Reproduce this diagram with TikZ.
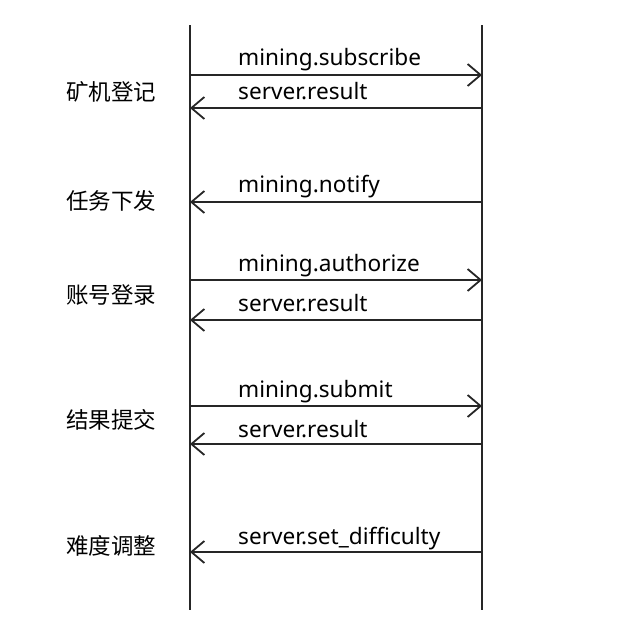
\documentclass[tikz,border=0pt]{standalone}
\usepackage{fontspec}
\setmainfont{Noto Sans}
\newfontfamily\cjk{Noto Sans CJK SC}
\usetikzlibrary{arrows.meta}
\begin{document}
\begin{tikzpicture}[x=1pt,y=-1pt,
  life/.style={line width=1.6pt,black!85},
  msg/.style={line width=1.8pt,black!85,-{Straight Barb[length=13pt,width=22pt,line width=1.8pt]}},
  lbl/.style={anchor=base west,font=\fontsize{22.6}{26}\selectfont,inner sep=0pt},
  phase/.style={font=\cjk\fontsize{22.5}{26}\selectfont,inner sep=0pt}]
\useasboundingbox (0,0) rectangle (640,640);
\coordinate (cT) at (190,25); \coordinate (cB) at (190,610);
\coordinate (sT) at (482,25); \coordinate (sB) at (482,610);
\draw[life] (cT) -- (cB);
\draw[life] (sT) -- (sB);
% messages
\coordinate (c1) at (190,75);  \coordinate (s1) at (482,75);
\coordinate (c2) at (190,108); \coordinate (s2) at (482,108);
\coordinate (c3) at (190,202); \coordinate (s3) at (482,202);
\coordinate (c4) at (190,280); \coordinate (s4) at (482,280);
\coordinate (c5) at (190,320); \coordinate (s5) at (482,320);
\coordinate (c6) at (190,406); \coordinate (s6) at (482,406);
\coordinate (c7) at (190,444); \coordinate (s7) at (482,444);
\coordinate (c8) at (190,552); \coordinate (s8) at (482,552);
\draw[msg] (c1) -- (s1);
\draw[msg] (s2) -- (c2);
\draw[msg] (s3) -- (c3);
\draw[msg] (c4) -- (s4);
\draw[msg] (s5) -- (c5);
\draw[msg] (c6) -- (s6);
\draw[msg] (s7) -- (c7);
\draw[msg] (s8) -- (c8);
\node[lbl] (l1) at (238,65) {mining.subscribe};
\node[lbl] (l2) at (238,99) {server.result};
\node[lbl] (l3) at (238,192) {mining.notify};
\node[lbl] (l4) at (238,271) {mining.authorize};
\node[lbl] (l5) at (238,311) {server.result};
\node[lbl] (l6) at (238,397) {mining.submit};
\node[lbl] (l7) at (238,437) {server.result};
\node[lbl] (l8) at (238,544) {server.set\_difficulty};
\node[phase] (p1) at (111,92) {矿机登记};
\node[phase] (p2) at (111,201) {任务下发};
\node[phase] (p3) at (111,295) {账号登录};
\node[phase] (p4) at (111,420) {结果提交};
\node[phase] (p5) at (111,546) {难度调整};
\end{tikzpicture}
\end{document}
